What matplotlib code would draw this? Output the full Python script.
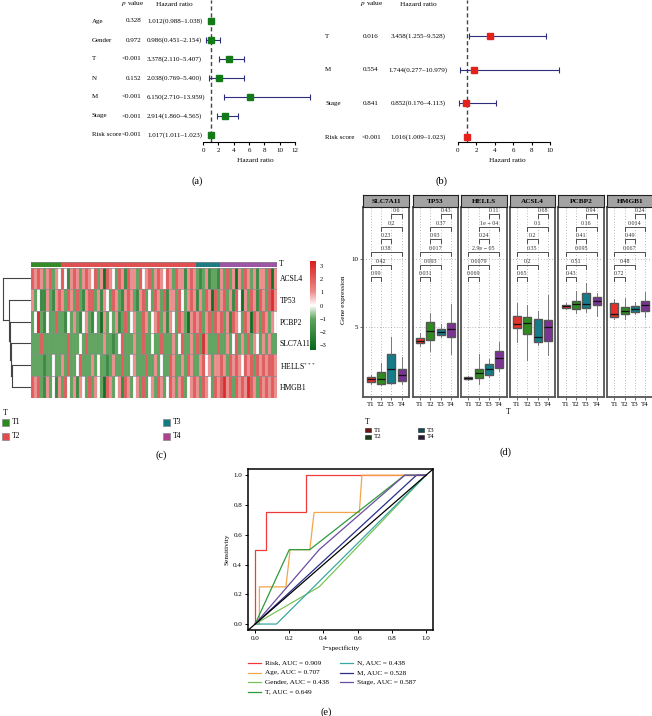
import numpy as np
import matplotlib
matplotlib.use("Agg")
import matplotlib.pyplot as plt
from matplotlib.colors import LinearSegmentedColormap, ListedColormap
from matplotlib.patches import Rectangle
from matplotlib.lines import Line2D

plt.rcParams['font.family'] = 'Liberation Serif'
plt.rcParams['mathtext.fontset'] = 'stix'

# ---- (a) univariate cox ----
uni_names = ["Age", "Gender", "T", "N", "M", "Stage", "Risk score"]
uni_p = ["0.328", "0.972", "<0.001", "0.152", "<0.001", "<0.001", "<0.001"]
uni_hr = [1.012, 0.986, 3.378, 2.038, 6.150, 2.914, 1.017]
uni_lo = [0.988, 0.451, 2.110, 0.769, 2.710, 1.860, 1.011]
uni_hi = [1.038, 2.154, 5.407, 5.400, 13.959, 4.565, 1.023]

# ---- (b) multivariate cox ----
multi_names = ["T", "M", "Stage", "Risk score"]
multi_p = ["0.016", "0.554", "0.841", "<0.001"]
multi_hr = [3.458, 1.744, 0.852, 1.016]
multi_lo = [1.255, 0.277, 0.176, 1.009]
multi_hi = [9.528, 10.979, 4.113, 1.023]

# ---- (c) heatmap (z-scores, columns grouped T1 | T2 | T3 | T4) ----
heat_genes = ["ACSL4", "TP53", "PCBP2", "SLC7A11", "HELLS$^{***}$", "HMGB1"]
acsl4 = ([2, 1, 2, 1, -1, 1, 2, -1, 1, 0]
         + [2, 0, -2, 1, 2, 1, -1, 1, 2, 1, 0, 2, -1, 1, -3, 2, 1, 0, -1, 2, 1, -2, 2, 1, 1, -1, 2, 0, 1, 2,
            -1, 1, 2, 1, 0, 2, 1, -1, 2, 1, 1, -2, 1, 2, 1]
         + [-1, -2, -1, 1, -2, -1, -1, -2]
         + [1, -1, 2, -1, 1, -3, 1, -1, 2, 1, -1, 1, -2, 1, 1, -1, 2, -3, 1])
tp53 = ([1, -1, 0, -2, -2, 1, -1, -2, 1, 2]
        + [1, -1, 2, 1, -1, 2, -1, -2, 1, 2, 2, -1, 1, -2, 1, 0, -1, 2, 1, -1, -2, 1, 2, 1, -1, -2, 1, 2, -1, 0,
           -1, 2, 1, -1, 2, -2, 1, 1, -1, 2, 0, -1, 1, 2, 1]
        + [-2, 1, -1, 2, 1, -3, 2, -1]
        + [1, 2, -1, 1, -2, 2, 0, -3, 1, -1, 2, 1, -2, 2, 1, -1, 2, 3, 1])
pcbp2 = ([-1, 0, 3, -1, -2, 0, -1, -1, 2, -1]
         + [-1, -2, 0, -1, 1, -1, -2, 0, 1, -1, -2, 0, -1, -3, 1, -1, 0, -1, 1, -2, -1, 2, -1, 0, 1, -1, -1, 2, 1, -1,
            0, 1, 2, -1, 1, -2, 1, 0, -1, 2, 1, -1, -3, 1, 2]
         + [1, 2, -1, 1, 2, -1, 2, 1]
         + [2, -1, 1, -2, 2, 1, 0, -1, 2, 1, -3, 2, 1, -1, 2, 1, -1, 1, 0])
slc7a11 = ([-1, -1, -1, 2, -1, -1, -1, -1, -1, -1]
           + [-1, -1, 2, -1, -1, -1, 0, -1, 2, -1, -1, -1, -1, -1, 1, -1, -1, -2, -1, 0, 2, -1, -1, -1, 1, -1, -1, 2, -1, -1,
              0, -1, -1, 2, -1, -1, -1, 1, -1, 0, 2, -1, -1, 1, -1]
           + [2, -1, 3, 1, -1, -1, -1, 2]
           + [-1, -1, 1, -1, 0, 2, -1, 1, -1, 2, -1, 1, 0, -1, 1, -1, 1, -1, -1])
hells = ([-1, -1, -1, -1, -2, -1, -1, 0, -1, -1]
         + [1, -1, 2, -1, -1, 0, 2, -1, -1, -1, 1, -1, 0, -1, -1, -2, -1, 1, -1, -1, 2, -1, -1, 0, 1, -1, -1, -1, 2, -1,
            -1, 1, -1, 0, -1, -1, 2, 1, -1, -1, 1, -1, 2, 1, -1]
         + [-1, 1, 2, 0, 1, -1, 1, 1]
         + [2, 1, -1, 2, 1, 2, 1, 0, 2, 1, 2, -1, 2, 1, 2, 1, 2, 2, 1])
hmgb1 = ([2, 1, 2, -1, -2, 1, -1, 0, -2, 1]
         + [-1, 2, 0, -1, 1, -2, 1, 0, -1, 2, -1, 1, 0, -1, -3, 2, 1, -1, 0, 1, -2, 2, 1, -1, 0, 1, -1, 2, -1, 0,
            1, -1, 2, 1, -1, 0, 2, 1, -1, 1, 2, -1, 0, 1, 2]
         + [1, -1, 2, 1, 0, -1, 2, 1]
         + [2, 3, 1, 2, -1, 2, 1, 2, 1, 3, 2, 1, -1, 2, 1, 2, 1, 2, 1])
t_groups = ["T1", "T2", "T3", "T4"]
t_counts = [10, 45, 8, 19]
# dendrogram merges: (left, right, height), new nodes numbered from 6
dend_merges = [(4, 5, 0.66), (3, 6, 0.71), (2, 7, 0.74), (1, 8, 0.78), (0, 9, 1.0)]

# ---- (d) boxplots ----
box_genes = ["SLC7A11", "TP53", "HELLS", "ACSL4", "PCBP2", "HMGB1"]
box_med = [[1.15, 1.17, 1.89, 1.47], [3.99, 4.71, 4.63, 4.88], [1.26, 1.62, 1.93, 2.72],
           [5.22, 5.27, 4.24, 4.98], [6.54, 6.69, 6.67, 6.91], [5.96, 6.20, 6.35, 6.62]]
box_q1 = [[0.96, 0.83, 0.88, 1.01], [3.82, 4.04, 4.39, 4.24], [1.18, 1.22, 1.47, 1.96],
          [4.90, 4.46, 3.87, 3.99], [6.42, 6.30, 6.42, 6.62], [5.76, 5.93, 6.10, 6.18]]
box_q3 = [[1.30, 1.71, 2.99, 1.89], [4.17, 5.34, 4.88, 5.32], [1.35, 1.93, 2.28, 3.24],
          [5.83, 5.76, 5.57, 5.51], [6.62, 6.91, 7.48, 7.18], [6.74, 6.45, 6.54, 6.93]]
box_lo = [[0.80, 0.70, 0.78, 0.78], [3.60, 3.24, 4.24, 3.01], [1.12, 0.83, 1.30, 1.76],
          [3.92, 2.57, 3.68, 2.94], [6.32, 6.00, 6.13, 5.81], [5.57, 5.57, 5.93, 5.71]]
box_hi = [[1.45, 2.33, 4.29, 2.77], [4.58, 6.00, 5.22, 6.69], [1.40, 3.01, 2.62, 3.92],
          [6.79, 6.62, 6.15, 7.35], [6.79, 7.67, 8.26, 7.52], [7.04, 7.11, 6.86, 7.57]]
comparisons = [(1, 2), (1, 3), (1, 4), (2, 3), (2, 4), (3, 4)]
comp_p = [["0.99", "0.42", "0.38", "0.23", "0.2", "0.6"],
          ["0.031", "0.093", "0.017", "0.93", "0.37", "0.43"],
          ["0.069", "0.0079", "2.9e − 05", "0.24", "1e − 04", "0.11"],
          ["0.65", "0.2", "0.35", "0.2", "0.1", "0.68"],
          ["0.43", "0.51", "0.095", "0.41", "0.16", "0.94"],
          ["0.72", "0.48", "0.067", "0.49", "0.014", "0.24"]]

# ---- (e) ROC ----
roc_names = ["Risk", "Age", "Gender", "T", "N", "M", "Stage"]
roc_auc = [0.909, 0.707, 0.438, 0.649, 0.438, 0.528, 0.587]
roc_fpr = [[0, 0, 0.0625, 0.0625, 0.3, 0.3, 1],
           [0, 0.025, 0.025, 0.18, 0.205, 0.32, 0.345, 0.61, 0.625, 1],
           [0, 0.375, 1],
           [0, 0.2, 0.32, 0.875, 1],
           [0, 0.125, 1],
           [0, 0.944, 1],
           [0, 0.375, 0.875, 1]]
roc_tpr = [[0, 0.5, 0.5, 0.75, 0.75, 1, 1],
           [0, 0, 0.25, 0.25, 0.5, 0.5, 0.75, 0.75, 1, 1],
           [0, 0.25, 1],
           [0, 0.5, 0.5, 1, 1],
           [0, 0, 1],
           [0, 1, 1],
           [0, 0.5, 1, 1]]
roc_colors = ["#ee3b3b", "#f5a54a", "#7cc35a", "#2e9a3a", "#3aa7a3", "#2a2f8a", "#6b4ea0"]

W, H = 652, 716
fig = plt.figure(figsize=(W / 100, H / 100), dpi=100)


def add_ax(l, t, r, b):
    return fig.add_axes([l / W, 1 - b / H, (r - l) / W, (b - t) / H])


def ftext(x, y, s, **kw):
    kw.setdefault('fontsize', 5.2)
    kw.setdefault('va', 'center')
    return fig.text(x / W, 1 - y / H, s, **kw)


def forest(names, pv, hr, lo, hi, color, x0, x1, tmax, y_first, step, base, right,
           lab_x, p_x, p_ha, hr_x, hr_ha, hp_x, hh_x):
    ppu = (x1 - x0) / tmax
    ax = add_ax(x0 - 10, 0, right, base)
    ax.set_xlim(-10 / ppu, (right - x0) / ppu)
    ax.set_ylim((base - y_first) / step, (0 - y_first) / step)
    idx = np.arange(len(names))
    hr, lo, hi = np.array(hr), np.array(lo), np.array(hi)
    ax.axvline(1, color='#444', ls=(0, (3, 2)), lw=1, zorder=1)
    ax.errorbar(hr, idx, xerr=[hr - lo, hi - hr], fmt='none', ecolor='#2e2e7e',
                elinewidth=0.8, capsize=2.2, capthick=0.8, zorder=2)
    ax.plot(hr, idx, 's', color=color, ms=4.6, lw=0, zorder=3)
    for s in ['left', 'top', 'right']:
        ax.spines[s].set_visible(False)
    ax.spines['bottom'].set_bounds(0, tmax)
    ax.spines['bottom'].set_linewidth(0.8)
    ax.set_xticks(range(0, tmax + 1, 2))
    ax.tick_params(axis='x', labelsize=5, length=2.5, width=0.8, pad=1.5)
    ax.set_yticks([])
    ax.set_xlabel("Hazard ratio", fontsize=5.2, labelpad=4)
    ax.patch.set_alpha(0)
    for i in range(len(names)):
        y = y_first + i * step
        ftext(lab_x, y, names[i], fontsize=5.0)
        ftext(p_x, y, pv[i], ha=p_ha, fontsize=5.0)
        ftext(hr_x, y, f"{hr[i]:.3f}({lo[i]:.3f}–{hi[i]:.3f})", ha=hr_ha, fontsize=5.0)
    ftext(hp_x, 4, "$p$ value", ha='center')
    ftext(hh_x, 4, "Hazard ratio", ha='center')


forest(uni_names, uni_p, uni_hr, uni_lo, uni_hi, '#137a1a', 203, 295, 12, 21, 19, 142, 318,
       92, 141.5, 'right', 147, 'left', 133, 174)
forest(multi_names, multi_p, multi_hr, multi_lo, multi_hi, '#e3221c', 457.7, 550.3, 10, 36, 33.7, 142, 566,
       325, 371, 'center', 418, 'center', 371.7, 418)

# ---- (c) heatmap ----
heat = np.array([acsl4, tp53, pcbp2, slc7a11, hells, hmgb1], dtype=float)
ncol = heat.shape[1]
heat_cmap = LinearSegmentedColormap.from_list(
    "gwr", [(0, "#07661a"), (0.35, "#5ea65e"), (0.5, "#ffffff"), (0.66, "#f08888"), (1, "#d81e1e")])
group_colors = ["#2a8a1c", "#e64a4a", "#137a7f", "#9e50a6"]


def cell_grid(ax, nrow):
    for x in range(ncol + 1):
        ax.axvline(x, color='#9a9a9a', lw=0.25, alpha=0.7)
    for y in range(nrow + 1):
        ax.axhline(y, color='#8a8a8a', lw=0.5)


ax_ann = add_ax(31, 262, 277, 266.5)
ann = np.repeat(np.arange(len(t_groups)), t_counts)[None, :]
ax_ann.pcolormesh(ann, cmap=ListedColormap(group_colors), vmin=-0.5, vmax=3.5)
cell_grid(ax_ann, 1)
ax_ann.set_xlim(0, ncol)
ax_ann.set_ylim(0, 1)
ax_ann.axis('off')

ax_h = add_ax(31, 267.5, 277, 397.5)
mesh = ax_h.pcolormesh(heat, cmap=heat_cmap, vmin=-3.35, vmax=3.35)
cell_grid(ax_h, len(heat_genes))
ax_h.set_xlim(0, ncol)
ax_h.set_ylim(len(heat_genes), 0)
ax_h.set_xticks([])
ax_h.yaxis.tick_right()
ax_h.set_yticks(np.arange(len(heat_genes)) + 0.5)
ax_h.set_yticklabels(heat_genes, fontsize=5.5)
ax_h.tick_params(axis='y', length=0, pad=2)
for s in ax_h.spines.values():
    s.set_visible(False)
ftext(279, 264, "T", fontsize=5.5)

# dendrogram
ax_d = add_ax(2, 267.5, 31, 397.5)
node_y = {i: i + 0.5 for i in range(len(heat_genes))}
node_h = {i: 0.0 for i in range(len(heat_genes))}
nid = len(heat_genes)
for a, b, h in dend_merges:
    for n in (a, b):
        ax_d.plot([node_h[n], h], [node_y[n]] * 2, color='#444', lw=0.8)
    ax_d.plot([h, h], [node_y[a], node_y[b]], color='#444', lw=0.8)
    node_y[nid] = (node_y[a] + node_y[b]) / 2
    node_h[nid] = h
    nid += 1
ax_d.set_xlim(1.03, 0)
ax_d.set_ylim(len(heat_genes), 0)
ax_d.axis('off')

cax = add_ax(310, 261, 316, 350)
cb = fig.colorbar(mesh, cax=cax, ticks=[-3, -2, -1, 0, 1, 2, 3])
cb.outline.set_visible(False)
cb.ax.tick_params(length=0, labelsize=4.6, pad=3)

ftext(3, 413, "T", fontsize=5.5)
for i, g in enumerate(t_groups):
    x = 2 if i < 2 else 163
    y = 422.5 if i % 2 == 0 else 436
    fig.add_artist(Rectangle((x / W, 1 - (y + 3.5) / H), 7 / W, 7 / H, transform=fig.transFigure,
                             fc=group_colors[i] if i < 3 else "#b0418f", ec='#888', lw=0.5))
    ftext(x + 10, y, g, fontsize=5.5)

# ---- (d) boxplots ----
box_colors = ["#e8302a", "#2e8b1e", "#137d8a", "#7b3294"]
facet_left = [363.3, 412.7, 461, 509.7, 558.3, 607]
for gi, gene in enumerate(box_genes):
    l = facet_left[gi]
    ax = add_ax(l, 207, l + 45.5, 397)
    ax.set_xlim(0.3, 4.7)
    ax.set_ylim(-0.15, 13.82)
    for x in range(1, 5):
        ax.axvline(x, color='#777', ls=(0, (1, 3)), lw=0.5, zorder=0)
    for y in (5, 10):
        ax.axhline(y, color='#777', ls=(0, (1, 3)), lw=0.5, zorder=0)
    stats = [dict(med=box_med[gi][k], q1=box_q1[gi][k], q3=box_q3[gi][k],
                  whislo=box_lo[gi][k], whishi=box_hi[gi][k], fliers=[]) for k in range(4)]
    bp = ax.bxp(stats, positions=[1, 2, 3, 4], widths=0.78, patch_artist=True, showcaps=False,
                boxprops=dict(edgecolor='#555', lw=1.0),
                medianprops=dict(color='#111', lw=0.9),
                whiskerprops=dict(color='#666', lw=0.6))
    for patch, c in zip(bp['boxes'], box_colors):
        patch.set_facecolor(c)
    for k, (a, b) in enumerate(comparisons):
        yb = 8.65 + 0.93 * k
        ax.plot([a, a, b, b], [yb - 0.3, yb, yb, yb - 0.3], color='#333', lw=0.6)
        ax.text((a + b) / 2, yb + 0.08, comp_p[gi][k], fontsize=4.3, ha='center', va='bottom', color='#333')
    for s in ax.spines.values():
        s.set_color('#555')
        s.set_linewidth(1.3)
    ax.set_xticks([1, 2, 3, 4])
    ax.set_xticklabels(t_groups, fontsize=5)
    ax.tick_params(axis='x', length=2, width=0.6, color='#555', pad=1.5)
    if gi == 0:
        ax.set_yticks([5, 10])
        ax.tick_params(axis='y', labelsize=5, length=2, width=0.6, color='#555', pad=1.5)
    else:
        ax.set_yticks([])
    sx = add_ax(l, 195, l + 45.5, 207)
    sx.set_facecolor('#a3a3a3')
    sx.set_xticks([])
    sx.set_yticks([])
    for s in sx.spines.values():
        s.set_color('#222')
        s.set_linewidth(0.8)
    sx.text(0.5, 0.45, gene, transform=sx.transAxes, ha='center', va='center', fontsize=5.2, fontweight='bold')

ftext(343, 300, "Gene expression", rotation=90, ha='center', fontsize=5.2)
ftext(508, 412, "T", ha='center', fontsize=5.5)
ftext(365, 421.7, "T", fontsize=5.5)
legend_dark = ["#6d1414", "#1b3d12", "#0f4c52", "#2e1838"]
for i, g in enumerate(t_groups):
    x = 365 if i < 2 else 418
    y = 430 if i % 2 == 0 else 437
    fig.add_artist(Rectangle((x / W, 1 - (y + 2) / H), 6 / W, 4 / H, transform=fig.transFigure,
                             fc=legend_dark[i], ec='#222', lw=0.4))
    ftext(x + 9, y, g, fontsize=5)

# ---- (e) ROC ----
ax = add_ax(248.3, 469.3, 432.8, 630)
ax.set_xlim(-0.04, 1.04)
ax.set_ylim(-0.04, 1.04)
for i in range(len(roc_names)):
    ax.plot(roc_fpr[i], roc_tpr[i], color=roc_colors[i], lw=0.9)
ax.axline((0, 0), (1, 1), color='black', lw=0.9)
ticks = [0, 0.2, 0.4, 0.6, 0.8, 1.0]
ax.set_xticks(ticks)
ax.set_yticks(ticks)
ax.set_xticklabels([f"{t:.1f}" for t in ticks])
ax.set_yticklabels([f"{t:.1f}" for t in ticks])
ax.tick_params(labelsize=5, length=2.5, width=0.7, pad=2)
for s in ax.spines.values():
    s.set_linewidth(1.1)
ax.set_xlabel("1−specificity", fontsize=5.2, labelpad=3)
ax.set_ylabel("Sensitivity", fontsize=5.2, labelpad=3)

leg_rows = [663.3, 672.8, 682.3, 691.8]
for i, (n, a) in enumerate(zip(roc_names, roc_auc)):
    col = 0 if i < 4 else 1
    y = leg_rows[i if i < 4 else i - 4]
    x0 = 248 if col == 0 else 340
    fig.add_artist(Line2D([x0 / W, (x0 + 13) / W], [1 - y / H] * 2, transform=fig.transFigure,
                          color=roc_colors[i], lw=0.9))
    ftext(x0 + 17, y, f"{n}, AUC = {a:.3f}", fontsize=5.2)

# panel letters
ftext(197, 181, "(a)", ha='center', fontsize=7.5)
ftext(441, 181, "(b)", ha='center', fontsize=7.5)
ftext(161, 455, "(c)", ha='center', fontsize=7.5)
ftext(505, 452, "(d)", ha='center', fontsize=7.5)
ftext(326, 712, "(e)", ha='center', fontsize=7.5)

fig.savefig("out.png", dpi=100)
